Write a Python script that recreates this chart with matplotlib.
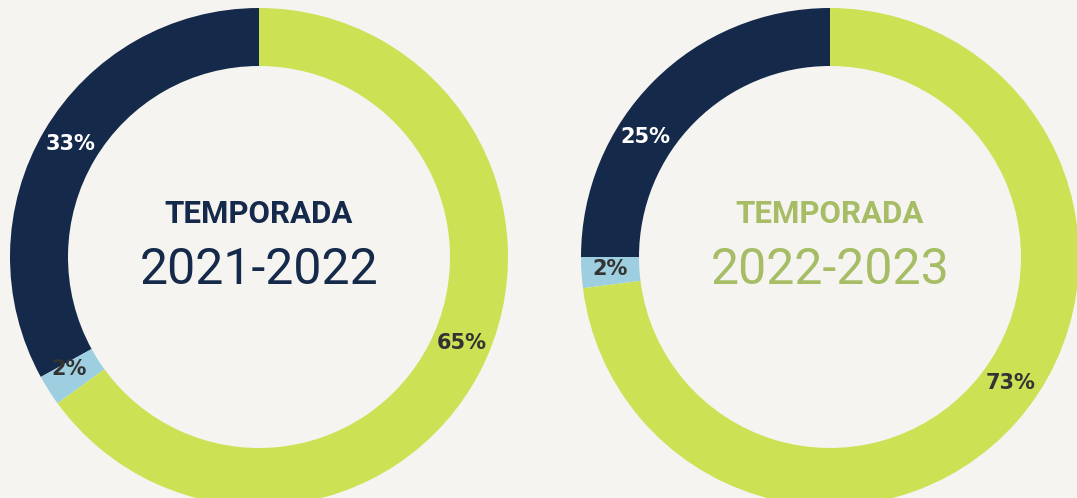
import numpy as np
import matplotlib.pyplot as plt

# data
seasons = ['2021-2022', '2022-2023']
shares_2122 = [33, 2, 65]
shares_2223 = [25, 2, 73]
labels_2122 = ['33%', '2%', '65%']
labels_2223 = ['25%', '2%', '73%']

# colours
navy = '#152a4a'
light_blue = '#9ecfe0'
lime = '#cde155'
olive = '#a6bd66'
grey = '#333333'
bg = '#f5f4f0'

# layout (figure pixels, y up)
centres = [(259, 241), (830, 241)]
r_out = 249
r_in = 191
label_r = 220
label_ang = [[149, 210.5, -23], [147, 183, -35]]
label_col = ['white', grey, grey]

fig = plt.figure(figsize=(10.77, 4.98), dpi=100, facecolor=bg)
ax = fig.add_axes([0, 0, 1, 1])

title_cols = [navy, olive]
for i, (vals, labs) in enumerate([(shares_2122, labels_2122), (shares_2223, labels_2223)]):
    cx, cy = centres[i]
    ax.pie(vals, colors=[navy, light_blue, lime], startangle=90, counterclock=True,
           center=(cx, cy), radius=r_out, frame=True,
           wedgeprops=dict(width=r_out - r_in, linewidth=0))
    for lab, ang, col in zip(labs, label_ang[i], label_col):
        a = np.deg2rad(ang)
        ax.text(cx + label_r * np.cos(a), cy + label_r * np.sin(a), lab,
                ha='center', va='center', color=col, fontsize=15,
                fontweight='bold', family='DejaVu Sans')
    ax.text(cx, 275, 'TEMPORADA', ha='center', va='baseline', color=title_cols[i],
            fontsize=22.5, fontweight='bold', family=['Roboto', 'DejaVu Sans'])
    ax.text(cx, 214, seasons[i], ha='center', va='baseline', color=title_cols[i],
            fontsize=36, fontweight='normal', family=['Roboto', 'DejaVu Sans'])

ax.set_xlim(0, 1077)
ax.set_ylim(0, 498)
ax.set_aspect('equal')
ax.axis('off')
fig.savefig('out.png', dpi=100, facecolor=bg)
